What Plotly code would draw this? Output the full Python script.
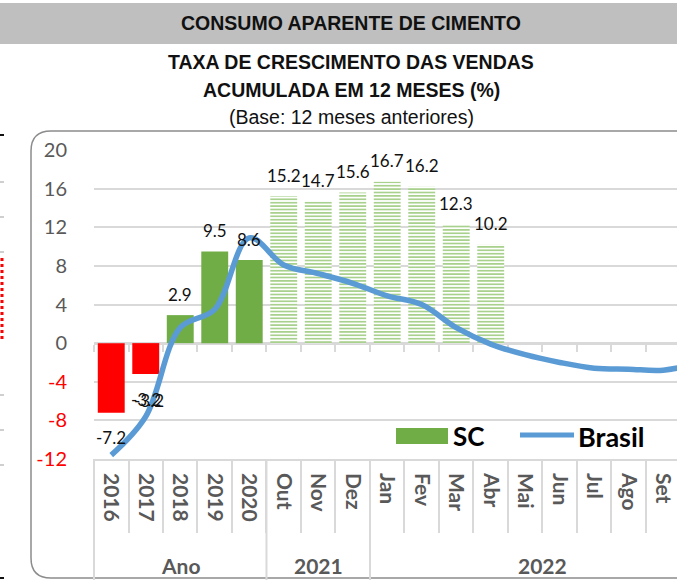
import plotly.graph_objects as go

# ---------------- data ----------------
periods = ["2016", "2017", "2018", "2019", "2020", "Out", "Nov", "Dez",
           "Jan", "Fev", "Mar", "Abr", "Mai", "Jun", "Jul", "Ago", "Set", "Out"]
groups = ["Ano"] * 5 + ["2021"] * 3 + ["2022"] * 10
sc_values = [-7.2, -3.2, 2.9, 9.5, 8.6, 15.2, 14.7, 15.6, 16.7, 16.2, 12.3, 10.2,
             None, None, None, None, None, None]
brasil_values = [-11.6, -7.6, 1.6, 3.5, 10.9, 8.1, 7.2, 6.2, 4.9, 4.0, 1.6, -0.1,
                 -1.2, -2.0, -2.6, -2.7, -2.8, -2.1]
y_ticks = [-12, -8, -4, 0, 4, 8, 12, 16, 20]

title_main = "CONSUMO APARENTE DE CIMENTO"
subtitle_1 = "TAXA DE CRESCIMENTO DAS VENDAS"
subtitle_2 = "ACUMULADA EM 12 MESES (%)"
subtitle_3 = "(Base: 12 meses anteriores)"

# ---------------- geometry ----------------
W, H = 677, 580
L, R, T, B = 94, 0, 150, 121
PW, PH = W - L - R, H - T - B
X_RANGE = [-0.5, 16.4]
Y_RANGE = [y_ticks[0], y_ticks[-1]]


def xp(px):
    return (px - L) / PW


def yp(py):
    return (H - B - py) / PH


def x_to_paper(v):
    return (v - X_RANGE[0]) / (X_RANGE[1] - X_RANGE[0])


GREEN = "#70AD47"
LIGHT_GREEN = "#A9D18E"
RED = "#FF0000"
BLUE = "#5B9BD5"
GRID = "#D9D9D9"
AXIS_TXT = "#595959"
FONT = "Lato"

idx = list(range(len(periods)))

# split the SC series into solid (annual) and hatched (monthly) bars
solid_x, solid_y, solid_c = [], [], []
hatch_x, hatch_y = [], []
for i, (v, g) in enumerate(zip(sc_values, groups)):
    if v is None:
        continue
    if g == "Ano":
        solid_x.append(i); solid_y.append(v)
        solid_c.append(RED if v < 0 else GREEN)
    else:
        hatch_x.append(i); hatch_y.append(v)

fig = go.Figure()

fig.add_trace(go.Bar(
    x=solid_x, y=solid_y, name="SC", width=0.78,
    marker=dict(color=solid_c, line=dict(width=0)),
    xaxis="x2", yaxis="y", showlegend=False, hoverinfo="skip",
))
fig.add_trace(go.Bar(
    x=hatch_x, y=hatch_y, name="SC", width=0.78,
    marker=dict(color="white", line=dict(width=0),
                pattern=dict(shape="-", fgcolor=LIGHT_GREEN, bgcolor="white",
                             fgopacity=1, fillmode="replace",
                             size=3.4, solidity=0.5)),
    xaxis="x2", yaxis="y", showlegend=False, hoverinfo="skip",
))

fig.add_trace(go.Scatter(
    x=idx, y=brasil_values, name="Brasil", mode="lines",
    line=dict(color=BLUE, width=5.5, shape="spline", smoothing=1.0),
    xaxis="x3", yaxis="y", showlegend=False, hoverinfo="skip",
))

boundaries = [i - 0.5 for i in range(len(periods) + 1)]
zero_pos = (0 - Y_RANGE[0]) / (Y_RANGE[1] - Y_RANGE[0])

ytext = []
for t in y_ticks:
    if t < 0:
        ytext.append(f'<span style="color:{RED}">{t}</span>')
    else:
        ytext.append(str(t))

fig.update_layout(
    width=W, height=H, autosize=False,
    margin=dict(l=L, r=R, t=T, b=B, pad=0),
    paper_bgcolor="white", plot_bgcolor="white",
    barmode="overlay",
    xaxis=dict(
        range=X_RANGE, tickmode="array", tickvals=boundaries,
        ticks="outside", ticklen=72, tickwidth=2, tickcolor=GRID,
        showticklabels=False, showline=True, linecolor=GRID, linewidth=2,
        showgrid=False, zeroline=False, fixedrange=True,
    ),
    xaxis2=dict(
        overlaying="x", anchor="free", position=zero_pos, range=X_RANGE,
        tickmode="array", tickvals=boundaries, ticks="outside", ticklen=7,
        tickwidth=2, tickcolor=GRID, showticklabels=False, showline=True,
        linecolor=GRID, linewidth=2.5, showgrid=False, zeroline=False,
        layer="below traces", fixedrange=True,
    ),
    xaxis3=dict(
        overlaying="x", anchor="y", side="bottom", range=X_RANGE,
        tickmode="array", tickvals=idx, ticktext=periods, tickangle=90,
        ticks="", ticklabelstandoff=13, showline=False, showgrid=False,
        zeroline=False, fixedrange=True, ticklabeloverflow="allow",
        tickfont=dict(family=FONT, size=21, color=AXIS_TXT, weight="bold"),
    ),
    yaxis=dict(
        range=Y_RANGE, tickmode="array", tickvals=y_ticks, ticktext=ytext,
        tickfont=dict(family=FONT, size=20, color=AXIS_TXT),
        showgrid=True, gridcolor=GRID, gridwidth=1.5, zeroline=False,
        ticks="", ticklabelstandoff=26, showline=False, fixedrange=True,
    ),
)

annotations = []
shapes = []

# banner + titles
shapes.append(dict(type="rect", xref="paper", yref="paper",
                   x0=xp(0), x1=xp(W), y0=yp(44), y1=yp(3),
                   fillcolor="#BFBFBF", line=dict(width=0), layer="below"))
for txt, py, bold in [(title_main, 23, True), (subtitle_1, 62, True),
                      (subtitle_2, 90, True), (subtitle_3, 117, False)]:
    annotations.append(dict(
        text=f"<b>{txt}</b>" if bold else txt, x=xp(351), y=yp(py),
        xref="paper", yref="paper", xanchor="center", yanchor="middle",
        showarrow=False,
        font=dict(family="Liberation Sans", size=19.5, color="#111111"),
    ))

# rounded chart border
bx0, by0, by1, rad = 31, 131, 578, 20
path = (f"M {xp(W + 20)},{yp(by0)} L {xp(bx0 + rad)},{yp(by0)} "
        f"Q {xp(bx0)},{yp(by0)} {xp(bx0)},{yp(by0 + rad)} "
        f"L {xp(bx0)},{yp(by1 - rad)} "
        f"Q {xp(bx0)},{yp(by1)} {xp(bx0 + rad)},{yp(by1)} "
        f"L {xp(W + 20)},{yp(by1)}")
shapes.append(dict(type="path", xref="paper", yref="paper", path=path,
                   line=dict(color="#8C8C8C", width=1.5)))

# group dividers (from the grouping) and group labels
starts = [i for i in range(len(groups)) if i == 0 or groups[i] != groups[i - 1]]
ends = starts[1:] + [len(groups)]
for s, e in zip(starts, ends):
    b = s - 0.5
    shapes.append(dict(type="line", xref="paper", yref="paper",
                       x0=x_to_paper(b), x1=x_to_paper(b), y0=0, y1=yp(H + 2),
                       line=dict(color=GRID, width=2)))
    annotations.append(dict(
        text=f"<b>{groups[s]}</b>", x=(s + e - 1) / 2, y=yp(565),
        xref="x", yref="paper", xanchor="center", yanchor="middle",
        showarrow=False, font=dict(family=FONT, size=21, color=AXIS_TXT),
    ))

# data labels
for i, v in enumerate(sc_values):
    if v is None:
        continue
    annotations.append(dict(
        text=f"{v:.1f}", x=i, y=v, xref="x", yref="y",
        xanchor="center", yanchor="middle", showarrow=False,
        yshift=21 if v >= 0 else -25,
        font=dict(family=FONT, size=17, color="#111111"),
    ))
    if i == 1:  # doubled label visible in the original
        annotations.append(dict(
            text=f"{v:.1f}", x=i, y=v, xref="x", yref="y",
            xanchor="center", yanchor="middle", showarrow=False,
            yshift=-26, xshift=3,
            font=dict(family=FONT, size=17, color="#111111"),
        ))

# manual legend
shapes.append(dict(type="rect", xref="paper", yref="paper",
                   x0=xp(396), x1=xp(448), y0=yp(444), y1=yp(428),
                   fillcolor=GREEN, line=dict(width=0)))
shapes.append(dict(type="line", xref="paper", yref="paper",
                   x0=xp(520), x1=xp(574), y0=yp(435), y1=yp(435),
                   line=dict(color=BLUE, width=5)))
annotations.append(dict(text="<b>SC</b>", x=xp(451), y=yp(436), xref="paper",
                        yref="paper", xanchor="left", yanchor="middle",
                        showarrow=False,
                        font=dict(family=FONT, size=26, color="#000000")))
annotations.append(dict(text="<b>Brasil</b>", x=xp(576), y=yp(436), xref="paper",
                        yref="paper", xanchor="left", yanchor="middle",
                        showarrow=False,
                        font=dict(family=FONT, size=27, color="#000000")))

# remnants of the neighbouring chart at the left edge
for py in [182, 217, 252, 395, 430, 465]:
    shapes.append(dict(type="line", xref="paper", yref="paper",
                       x0=xp(0), x1=xp(4), y0=yp(py), y1=yp(py),
                       line=dict(color="#BFBFBF", width=1.5)))
shapes.append(dict(type="line", xref="paper", yref="paper",
                   x0=xp(2), x1=xp(2), y0=yp(258), y1=yp(342),
                   line=dict(color=RED, width=3, dash="dot")))
for py in [135, 578]:
    shapes.append(dict(type="line", xref="paper", yref="paper",
                       x0=xp(0), x1=xp(4), y0=yp(py), y1=yp(py),
                       line=dict(color="#111111", width=2)))

fig.update_layout(annotations=annotations, shapes=shapes)

fig.write_html("out.html", config={"displayModeBar": False},
               post_script="document.body.style.margin='0';")
